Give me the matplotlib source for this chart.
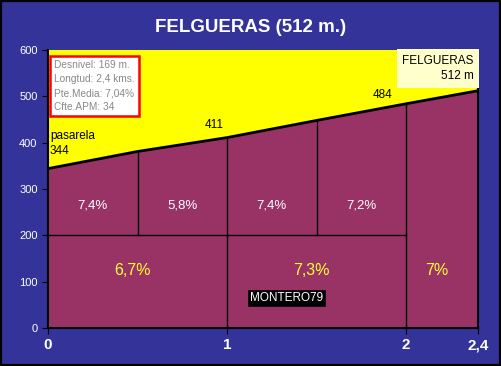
import matplotlib
matplotlib.use("Agg")
import matplotlib.pyplot as plt

# perfil de altitud
dist = [0, 0.5, 1, 1.5, 2, 2.4]
alt = [344, 381, 411, 448, 484, 512]

# pendientes por tramo (0,5 km y 1 km)
pend_medio = ["7,4%", "5,8%", "7,4%", "7,2%"]
pend_km = ["6,7%", "7,3%", "7%"]
km_tramos = [(0, 1), (1, 2), (2, 2.4)]

xticks = [0, 1, 2, 2.4]
xtick_labels = ["0", "1", "2", "2,4"]
yticks = [0, 100, 200, 300, 400, 500, 600]

fondo = "#333399"
granate = "#993366"

fig = plt.figure(figsize=(5.01, 3.66), dpi=100, facecolor=fondo)
fig.patches.append(plt.Rectangle((0, 0), 1, 1, transform=fig.transFigure,
                                 fill=False, ec="black", lw=3))
ax = fig.add_axes([0.0958, 0.1038, 0.858, 0.7596])
ax.set_facecolor("#FFFF00")

ax.fill_between(dist, 0, alt, color=granate, zorder=1)
ax.plot(dist, alt, color="black", lw=2, zorder=3)

# lineas de separacion
ax.plot([0, 2], [200, 200], color="black", lw=1, zorder=2)
for i in range(1, len(dist) - 1):
    x = dist[i]
    y0 = 0 if x in (1, 2) else 200
    ax.plot([x, x], [y0, alt[i]], color="black", lw=1, zorder=2)

for i, txt in enumerate(pend_medio):
    xm = (dist[i] + dist[i + 1]) / 2
    ax.text(xm, 265, txt, color="white", fontsize=9.5, ha="center", va="center",
            family="Liberation Sans")
for (a, b), txt in zip(km_tramos, pend_km):
    ax.text((a + b) / 2 - 0.03, 125, txt, color="#FFFF33", fontsize=11.5,
            ha="center", va="center", family="Liberation Sans")

ax.text(0.01, 398, "pasarela\n344", fontsize=8.5, va="center", ha="left",
        family="Liberation Sans", linespacing=1.3)
ax.text(0.93, 438, "411", fontsize=8.5, ha="center", va="center", family="Liberation Sans")
ax.text(1.87, 503, "484", fontsize=8.5, ha="center", va="center", family="Liberation Sans")

ax.text(0.035, 578, "Desnivel: 169 m.\nLongtud: 2,4 kms.\nPte.Media: 7,04%\nCfte.APM: 34",
        fontsize=7.3, color="#888888", va="top", ha="left", family="Liberation Sans",
        linespacing=1.5,
        bbox=dict(boxstyle="square,pad=0.4", fc="white", ec="#FF0000", lw=1.8))
ax.text(2.375, 590, "FELGUERAS\n512 m", fontsize=8.5, ha="right", va="top",
        family="Liberation Sans", linespacing=1.4,
        bbox=dict(boxstyle="square,pad=0.45", fc="#FFFFCC", ec="none"), zorder=5)
ax.text(1.33, 65, "MONTERO79", fontsize=8.5, color="white", ha="center", va="center",
        family="Liberation Sans",
        bbox=dict(boxstyle="square,pad=0.25", fc="black", ec="#993366", lw=1))

ax.set_xlim(0, 2.4)
ax.set_ylim(0, 600)
ax.set_xticks(xticks)
ax.set_xticklabels(xtick_labels)
ax.set_yticks(yticks)
ax.tick_params(axis="x", colors="black", labelcolor="white", labelsize=11,
               length=4, direction="out")
ax.tick_params(axis="y", colors="black", labelcolor="white", labelsize=8,
               length=4, direction="out")
for lbl in ax.get_xticklabels():
    lbl.set_fontweight("bold")
    lbl.set_family("Liberation Sans")
for lbl in ax.get_yticklabels():
    lbl.set_family("Liberation Sans")
for s in ax.spines.values():
    s.set_color("black")
    s.set_linewidth(1.5)
ax.spines["top"].set_visible(False)

fig.text(0.5, 0.926, "FELGUERAS (512 m.)", color="white", fontsize=13.5,
         fontweight="bold", ha="center", va="center", family="Liberation Sans")

fig.savefig("out.png", dpi=100, facecolor=fondo)
